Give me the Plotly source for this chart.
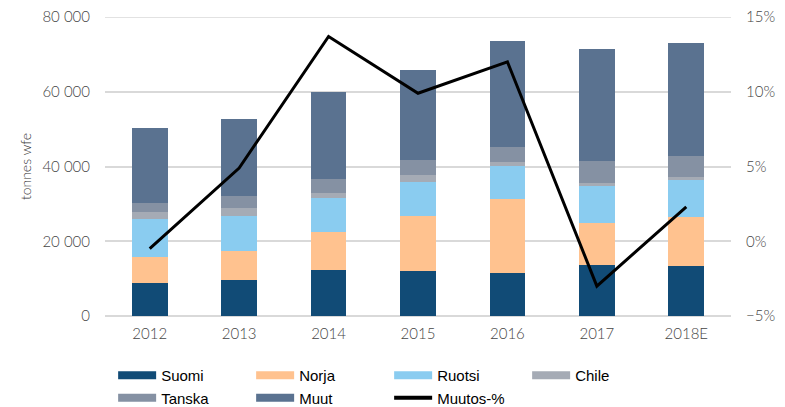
import plotly.graph_objects as go

years = ["2012", "2013", "2014", "2015", "2016", "2017", "2018E"]
suomi = [8700, 9600, 12400, 12100, 11400, 13600, 13300]
norja = [7000, 7900, 10200, 14700, 19800, 11200, 13100]
ruotsi = [10200, 9200, 9000, 9000, 9000, 10000, 10000]
chile = [2000, 2300, 1200, 1900, 1100, 700, 800]
tanska = [2400, 3100, 3800, 4000, 4000, 6000, 5700]
muut = [19900, 20600, 23400, 24100, 28300, 29900, 30200]
muutos = [-0.5, 4.9, 13.7, 9.9, 12.0, -3.0, 2.3]
y_max = 80000

series = [
    ("Suomi", suomi, "#114b76"),
    ("Norja", norja, "#ffc28f"),
    ("Ruotsi", ruotsi, "#8accf0"),
    ("Chile", chile, "#a5abb5"),
    ("Tanska", tanska, "#8591a3"),
    ("Muut", muut, "#5a7290"),
]

fig = go.Figure()
for name, vals, col in series:
    fig.add_trace(go.Bar(x=years, y=vals, name=name, marker=dict(color=col, line=dict(width=0)),
                         showlegend=False, legendgroup=name, yaxis="y"))

fig.add_trace(go.Scatter(x=years, y=muutos, name="Muutos-%", mode="lines",
                         line=dict(color="black", width=3), yaxis="y2", showlegend=False,
                         legendgroup="Muutos-%"))

# legend entries (wide bar-like symbols)
for name, vals, col in series:
    fig.add_trace(go.Scatter(x=[None], y=[None], name=name, mode="lines",
                             line=dict(color=col, width=8), legendgroup=name, showlegend=True))
fig.add_trace(go.Scatter(x=[None], y=[None], name="Muutos-%", mode="lines",
                         line=dict(color="black", width=4), legendgroup="Muutos-%", showlegend=True))

tickfont = dict(family="Lato", size=15, color="#454545", weight=300)
gridcol = "#d9d9d9"

# top gridline (plotly drops grid lines lying on the plot edge)
fig.add_shape(type="line", xref="paper", x0=0, x1=1, yref="y", y0=y_max, y1=y_max,
              line=dict(color=gridcol, width=1.5), layer="below")

# the page body adds an 8px margin at top/left, so the figure is 8px smaller
fig.update_layout(
    width=777, height=399,
    margin=dict(l=97, r=54, t=9, b=91, autoexpand=False),
    paper_bgcolor="white", plot_bgcolor="white",
    barmode="stack", bargap=0.6,
    separators=", ",
    xaxis=dict(type="category", tickfont=tickfont, showgrid=False, showline=False,
               ticks="outside", ticklen=4, tickcolor="rgba(0,0,0,0)", automargin=False),
    yaxis=dict(range=[0, y_max], dtick=20000, tickformat=",.0f", tickfont=tickfont,
               showgrid=True, gridcolor=gridcol, gridwidth=1.5, zeroline=True,
               zerolinecolor=gridcol, zerolinewidth=1.5, ticklabelstandoff=14,
               automargin=False, ticklabeloverflow="allow",
               title=dict(text="tonnes wfe", font=dict(family="Lato", size=14, color="#333333", weight=300),
                          standoff=7)),
    yaxis2=dict(range=[-5, 15], dtick=5, ticksuffix="%", overlaying="y", side="right",
                showgrid=False, zeroline=False, tickfont=tickfont, ticklabelstandoff=14,
                automargin=False, ticklabeloverflow="allow"),
    legend=dict(orientation="h", x=0.013, xanchor="left", y=-0.144, yanchor="top",
                font=dict(family="Liberation Sans", size=15, color="#000000"),
                entrywidth=85, entrywidthmode="pixels", itemwidth=38, traceorder="normal",
                bgcolor="rgba(0,0,0,0)"),
    showlegend=True,
)

fig.write_html("out.html")
